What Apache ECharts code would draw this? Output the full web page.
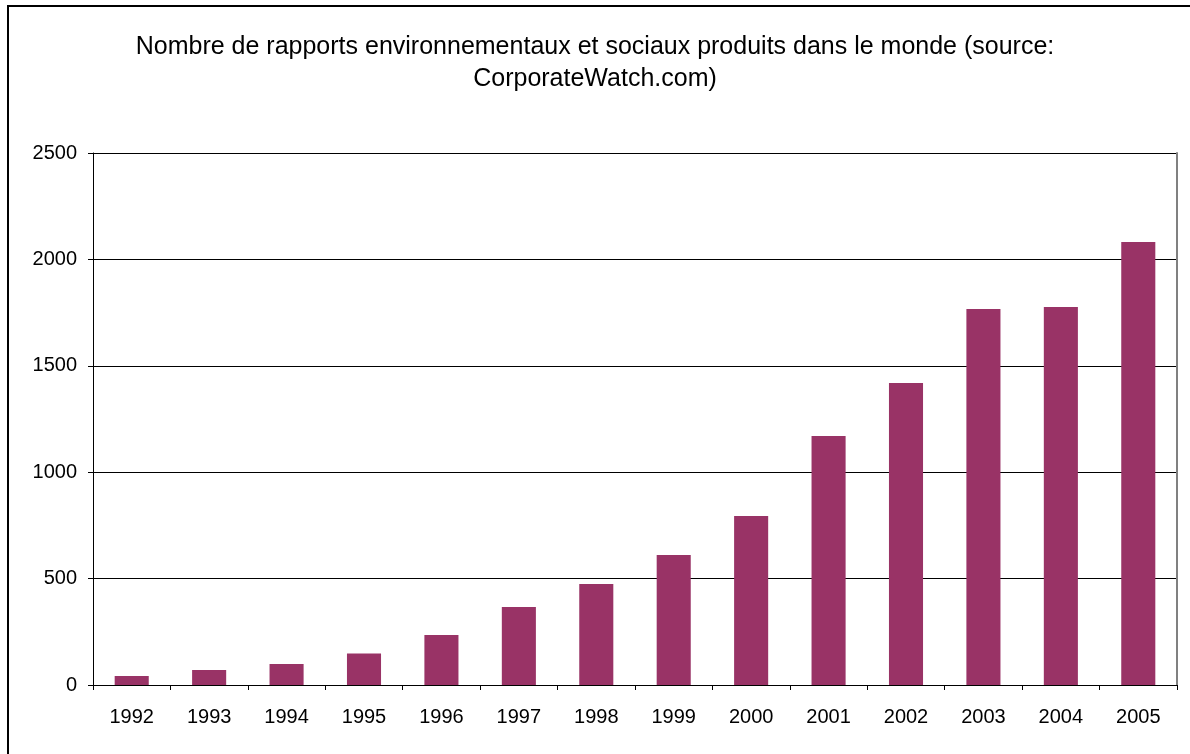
<!DOCTYPE html>
<html>
<head>
<meta charset="utf-8">
<script src="https://cdn.jsdelivr.net/npm/echarts@6/dist/echarts.min.js"></script>
<style>
  html, body { margin: 0; padding: 0; background: #fff; overflow: hidden; }
  #frame {
    position: absolute; left: 7px; top: 5px;
    width: 1200px; height: 800px;
    border-left: 2px solid #000; border-top: 2px solid #000;
  }
  #chart { position: absolute; left: 0; top: 0; width: 1190px; height: 754px; }
</style>
</head>
<body>
<div id="frame"></div>
<div id="chart"></div>
<script>
// années
const years = ['1992', '1993', '1994', '1995', '1996', '1997', '1998',
  '1999', '2000', '2001', '2002', '2003', '2004', '2005']
// nombre de rapports
const reports = [42, 70, 99, 148, 235, 366, 475, 611, 794, 1170, 1419, 1767, 1776, 2082]

const chart = echarts.init(document.getElementById('chart'))

const font = 'Liberation Sans, Arial, sans-serif'

const option = {
  animation: false,
  title: {
    text: 'Nombre de rapports environnementaux et sociaux produits dans le monde (source:\nCorporateWatch.com)',
    left: 'center',
    top: 26,
    textStyle: {
      fontFamily: font,
      fontSize: 25,
      fontWeight: 'normal',
      color: '#000',
      lineHeight: 32
    }
  },
  grid: { left: 93, right: 13, top: 153, bottom: 69 },
  xAxis: {
    type: 'category',
    data: years,
    axisLine: { lineStyle: { color: '#000', width: 1 } },
    axisTick: { show: true, length: 5, lineStyle: { color: '#000' } },
    axisLabel: { color: '#000', fontFamily: font, fontSize: 20, margin: 22 }
  },
  yAxis: [
    {
      type: 'value',
      min: 0,
      max: 2500,
      interval: 500,
      axisLine: { show: true, lineStyle: { color: '#000', width: 1 } },
      axisTick: { show: true, length: 5, lineStyle: { color: '#000' } },
      axisLabel: {
        color: '#000', fontFamily: font, fontSize: 20, margin: 16,
        formatter: v => String(v)
      },
      splitLine: { lineStyle: { color: '#000', width: 1 } }
    },
    {
      type: 'value',
      position: 'right',
      min: 0,
      max: 2500,
      axisLine: { show: true, lineStyle: { color: '#808080', width: 2 } },
      axisTick: { show: false },
      axisLabel: { show: false },
      splitLine: { show: false }
    }
  ],
  series: [{
    type: 'bar',
    data: reports,
    barWidth: '44%',
    itemStyle: { color: '#993366' }
  }]
}

chart.setOption(option)
</script>
</body>
</html>
